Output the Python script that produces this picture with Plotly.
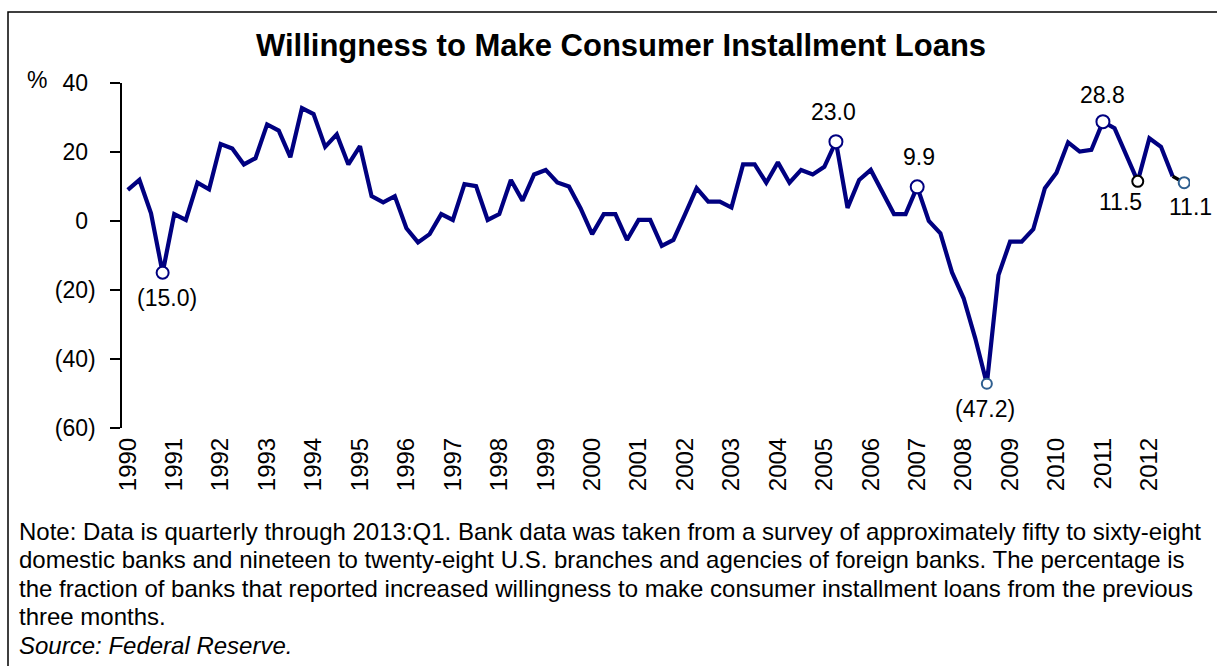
import plotly.graph_objects as go

# Quarterly survey readings (% of banks more willing to make consumer installment loans)
values = [
    9.0, 11.9, 2.2, -15.0, 2.0, 0.3, 11.1, 9.2,
    22.3, 21.0, 16.4, 18.2, 28.0, 26.2, 18.5, 32.7,
    31.0, 21.5, 25.1, 16.4, 21.7, 7.2, 5.4, 7.2,
    -2.1, -6.2, -3.8, 2.0, 0.3, 10.7, 10.1, 0.3,
    2.0, 11.9, 5.9, 13.5, 14.8, 11.2, 10.0, 3.7,
    -3.8, 2.0, 2.0, -5.5, 0.3, 0.3, -7.2, -5.5,
    1.9, 9.5, 5.6, 5.6, 3.9, 16.4, 16.4, 11.1,
    17.0, 11.1, 14.8, 13.5, 15.7, 23.0, 3.8, 11.9,
    14.8, 8.3, 2.0, 2.0, 9.9, 0.0, -3.6, -14.9,
    -22.4, -34.0, -47.2, -15.7, -6.0, -6.0, -2.4, 9.5,
    14.0, 22.8, 20.1, 20.6, 28.8, 26.9, 19.1, 11.5,
    24.0, 21.5, 13.0, 11.1,
]
years = [str(y) for y in range(1990, 2013)]
y_ticks = [40, 20, 0, -20, -40, -60]
labeled_points = [3, 61, 68, 74, 84, 87, 91]

W, H = 1217, 666
L, R, T, B = 122, 1190, 83, 428   # plot area in pixels
NAVY = "#000080"
FONT = "Arial, Liberation Sans, sans-serif"

def px_x(p):
    return (p - L) / (R - L)

def px_y(p):
    return (B - p) / (B - T)

def fmt(v):
    return f"({abs(v):.1f})" if v < 0 else f"{v:.1f}"

def ylab(v):
    if v < 0:
        return f"({abs(v)})"
    return f"{v}<span style='color:rgba(0,0,0,0)'>)</span>"

n = len(values)
xs = list(range(n))

fig = go.Figure()
fig.add_trace(go.Scatter(
    x=xs[:-1], y=values[:-1], mode="lines",
    line=dict(color=NAVY, width=4.2), hoverinfo="skip", showlegend=False,
))
fig.add_trace(go.Scatter(
    x=xs[-2:], y=values[-2:], mode="lines",
    line=dict(color="black", width=3.5), hoverinfo="skip", showlegend=False,
))

marker_style = {
    3: dict(size=12, color="white", line=dict(color=NAVY, width=2)),
    61: dict(size=13, color="white", line=dict(color=NAVY, width=2)),
    68: dict(size=13, color="white", line=dict(color=NAVY, width=2)),
    74: dict(size=10, color="white", line=dict(color="#2F5F8F", width=2)),
    84: dict(size=13, color="white", line=dict(color=NAVY, width=2)),
    87: dict(size=11, color="white", line=dict(color="black", width=2)),
    91: dict(size=11, color="white", line=dict(color="#2F5F8F", width=2)),
}
label_shift = {
    3: (4, -25), 61: (-2, 30), 68: (2, 30), 74: (-2, -25),
    84: (0, 27), 87: (-17, -21), 91: (6, -24),
}
for i in labeled_points:
    fig.add_trace(go.Scatter(
        x=[xs[i]], y=[values[i]], mode="markers", marker=marker_style[i],
        hoverinfo="skip", showlegend=False,
    ))
    dx, dy = label_shift[i]
    fig.add_annotation(
        x=xs[i], y=values[i], xref="x", yref="y", text=fmt(values[i]),
        showarrow=False, xshift=dx, yshift=dy,
        font=dict(family=FONT, size=23, color="black"),
    )

fig.update_layout(
    width=W, height=H,
    margin=dict(l=L, r=W - R, t=T, b=H - B),
    paper_bgcolor="white", plot_bgcolor="white",
    showlegend=False,
    xaxis=dict(
        range=[-0.5, n - 0.5], tickmode="array",
        tickvals=list(range(0, 4 * len(years), 4)), ticktext=years,
        tickangle=-90, ticks="", showline=False, showgrid=False, zeroline=False,
        ticklabelstandoff=4,
        tickfont=dict(family=FONT, size=24, color="black"),
    ),
    xaxis2=dict(
        range=[-0.5, n - 0.5], overlaying="x", anchor="free",
        position=60 / 100, tickmode="array",
        tickvals=[k - 0.5 for k in range(0, n + 1, 4)],
        ticks="outside", ticklen=6, tickwidth=1.5, tickcolor="black",
        showticklabels=False, showline=True, linecolor="black", linewidth=1.5,
        showgrid=False, zeroline=False,
    ),
    yaxis=dict(
        range=[-60, 40], tickmode="array", tickvals=y_ticks,
        ticktext=[ylab(v) for v in y_ticks],
        ticks="outside", ticklen=10, tickwidth=1.5, tickcolor="black",
        showline=True, linecolor="black", linewidth=1.5,
        showgrid=False, zeroline=False, ticklabelstandoff=10,
        tickfont=dict(family=FONT, size=23, color="black"),
    ),
)

# Title, unit label, notes
fig.add_annotation(
    xref="paper", yref="paper", x=px_x(621), y=px_y(45),
    text="<b>Willingness to Make Consumer Installment Loans</b>",
    showarrow=False, xanchor="center", yanchor="middle",
    font=dict(family=FONT, size=31, color="black"),
)
fig.add_annotation(
    xref="paper", yref="paper", x=px_x(25), y=px_y(80), text="%",
    showarrow=False, xanchor="left", yanchor="middle",
    font=dict(family=FONT, size=23, color="black"),
)
note_lines = [
    "Note: Data is quarterly through 2013:Q1. Bank data was taken from a survey of approximately fifty to sixty-eight",
    "domestic banks and nineteen to twenty-eight U.S. branches and agencies of foreign banks. The percentage is",
    "the fraction of banks that reported increased willingness to make consumer installment loans from the previous",
    "three months.",
    "<i>Source: Federal Reserve.</i>",
]
for k, line in enumerate(note_lines):
    fig.add_annotation(
        xref="paper", yref="paper", x=px_x(17), y=px_y(531 + 28.6 * k),
        text=line, showarrow=False, xanchor="left", yanchor="middle",
        font=dict(family=FONT, size=24, color="black"),
    )

# Outer frame
fig.add_shape(
    type="rect", xref="paper", yref="paper",
    x0=px_x(8), x1=px_x(1240), y0=px_y(690), y1=px_y(12),
    line=dict(color="black", width=1.5), fillcolor="rgba(0,0,0,0)", layer="below",
)

fig.write_html("out.html")
